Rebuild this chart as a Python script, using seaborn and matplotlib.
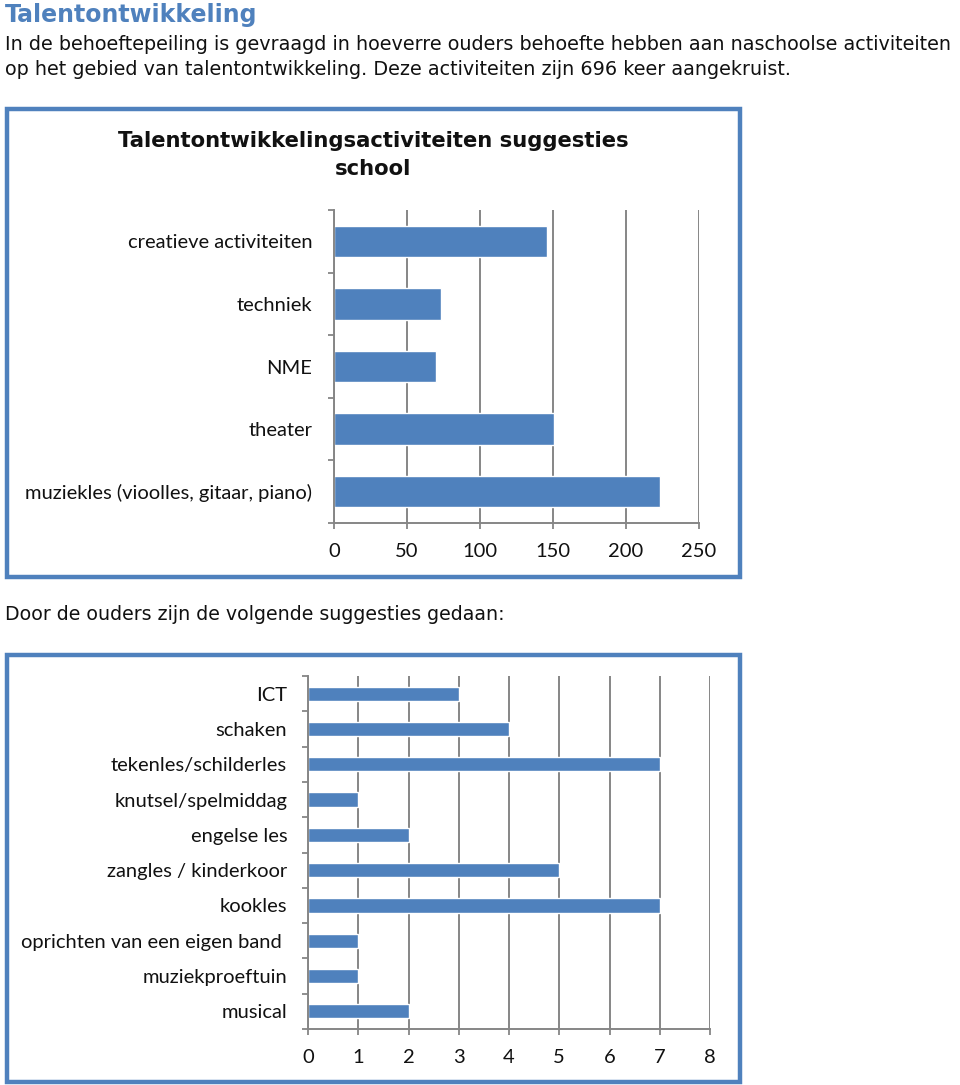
import matplotlib
matplotlib.use("Agg")
import matplotlib.pyplot as plt
import seaborn as sns
import pandas as pd
import numpy as np
from matplotlib.patches import Rectangle

# ---- data ----
cats1 = ["creatieve activiteiten", "techniek", "NME", "theater",
         "muziekles (vioolles, gitaar, piano)"]
vals1 = [146, 73, 70, 151, 223]
ticks1 = [0, 50, 100, 150, 200, 250]

cats2 = ["ICT", "schaken", "tekenles/schilderles", "knutsel/spelmiddag",
         "engelse les", "zangles / kinderkoor", "kookles",
         "oprichten van een eigen band ", "muziekproeftuin", "musical"]
vals2 = [3, 4, 7, 1, 2, 5, 7, 1, 1, 2]
ticks2 = [0, 1, 2, 3, 4, 5, 6, 7, 8]

heading = "Talentontwikkeling"
intro1 = "In de behoeftepeiling is gevraagd in hoeverre ouders behoefte hebben aan naschoolse activiteiten"
intro2 = "op het gebied van talentontwikkeling. Deze activiteiten zijn 696 keer aangekruist."
chart1_title = "Talentontwikkelingsactiviteiten suggesties\nschool"
between = "Door de ouders zijn de volgende suggesties gedaan:"

sns.set_theme(style="white")
plt.rcParams['font.family'] = ['DejaVu Sans']

W, H = 960, 1085
fig = plt.figure(figsize=(W / 100, H / 100), dpi=100)
fig.patch.set_facecolor("white")

BLUE = "#4F81BD"
GRID = "#868686"
CHART_FONT = "Lato"


def px_axes(x0, y0, x1, y1):
    return fig.add_axes([x0 / W, 1 - y1 / H, (x1 - x0) / W, (y1 - y0) / H])


def frame(x0, y0, x1, y1):
    fig.patches.append(Rectangle((x0 / W, 1 - y1 / H), (x1 - x0) / W, (y1 - y0) / H,
                                 transform=fig.transFigure, fill=False,
                                 edgecolor=BLUE, linewidth=3.2, zorder=5))


def style_ax(ax, cats, ticks, ypad):
    ax.set_xlim(ticks[0], ticks[-1])
    ax.set_xticks(ticks)
    ax.set_xticklabels([str(t) for t in ticks], fontsize=14.5, family=CHART_FONT)
    n = len(cats)
    ax.set_ylim(n - 0.5, -0.5)
    ax.set_yticks(range(n))
    ax.set_yticklabels(cats, fontsize=14.5, family=CHART_FONT, color="#111111")
    ax.set_yticks(np.arange(-0.5, n, 1.0), minor=True)
    ax.tick_params(axis="y", which="both", left=True)
    ax.tick_params(axis="x", which="both", bottom=True)
    ax.tick_params(axis="y", which="major", length=0, pad=ypad)
    ax.tick_params(axis="y", which="minor", length=4.5, width=1.3, color=GRID, direction="out")
    ax.tick_params(axis="x", which="major", length=4.5, width=1.3, color=GRID,
                   direction="out", pad=10, labelcolor="#111111")
    ax.xaxis.grid(True, color=GRID, linewidth=1.4)
    ax.yaxis.grid(False)
    ax.set_axisbelow(True)
    for s in ["top", "right"]:
        ax.spines[s].set_visible(False)
    for s in ["left", "bottom"]:
        ax.spines[s].set_color(GRID)
        ax.spines[s].set_linewidth(1.4)
    ax.set_xlabel("")
    ax.set_ylabel("")
    ax.set_facecolor("white")


# ---- texts ----
fig.text(5 / W, 1 - 15 / H, heading, fontsize=17, fontweight="bold", color=BLUE,
         va="center", ha="left")
fig.text(5 / W, 1 - 44 / H, intro1, fontsize=13.8, color="#111111", va="center", ha="left")
fig.text(5 / W, 1 - 70 / H, intro2, fontsize=13.8, color="#111111", va="center", ha="left")
fig.text(5 / W, 1 - 614 / H, between, fontsize=13.7, color="#111111", va="center", ha="left")

# ---- chart 1 ----
frame(7, 109, 740, 577)
fig.text(373 / W, 1 - 155 / H, chart1_title, fontsize=15.2, fontweight="bold",
         color="#111111", ha="center", va="center", linespacing=1.55)
ax1 = px_axes(334, 210, 699, 523)
df1 = pd.DataFrame({"cat": cats1, "val": vals1})
sns.barplot(data=df1, x="val", y="cat", orient="h", color=BLUE, saturation=1,
            width=0.5, ax=ax1)
style_ax(ax1, cats1, ticks1, 15.5)

# ---- chart 2 ----
frame(7, 655, 740, 1082)
ax2 = px_axes(308, 676, 710, 1029)
df2 = pd.DataFrame({"cat": cats2, "val": vals2})
sns.barplot(data=df2, x="val", y="cat", orient="h", color=BLUE, saturation=1,
            width=0.4, ax=ax2)
style_ax(ax2, cats2, ticks2, 15)

fig.savefig("out.png", dpi=100, facecolor="white")
